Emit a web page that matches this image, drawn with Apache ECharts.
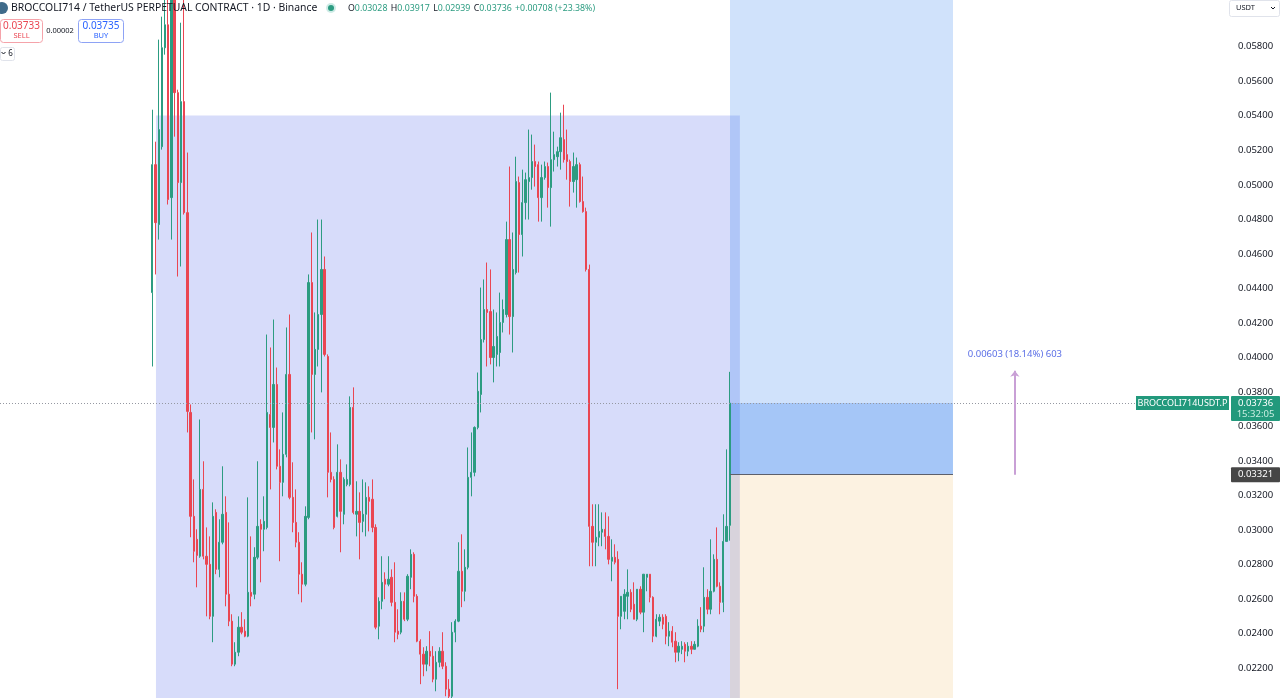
<!DOCTYPE html>
<html><head><meta charset="utf-8">
<style>html,body{margin:0;padding:0;background:#fff;}#c{width:1280px;height:698px;}</style>
<script src="https://cdn.jsdelivr.net/npm/echarts@6/dist/echarts.min.js"></script>
</head><body><div id="c"></div>
<script>
// ---- data (daily candles, oldest first) ----
const opens=[0.04376,0.05117,0.04770,0.05221,0.05794,0.05927,0.04926,0.06101,0.05534,0.05013,
0.05482,0.04839,0.03682,0.03080,0.02947,0.02849,0.03236,0.02849,0.02802,0.02501,
0.03103,0.02773,0.02930,0.03103,0.02629,0.02473,0.02224,0.02293,0.02438,0.02415,
0.02386,0.02640,0.02629,0.02843,0.03034,0.03005,0.03016,0.03670,0.03595,0.03844,
0.03370,0.03277,0.03439,0.03902,0.03190,0.03045,0.02930,0.02745,0.02687,0.03074,
0.04434,0.03902,0.04047,0.04249,0.04510,0.04006,0.03335,0.03294,0.03080,0.03335,
0.03092,0.03265,0.03265,0.03711,0.03092,0.03109,0.03051,0.03092,0.03190,0.03179,
0.03016,0.02444,0.02588,0.02716,0.02687,0.02727,0.02582,0.02415,0.02409,0.02588,
0.02484,0.02727,0.02860,0.02617,0.02357,0.02282,0.02224,0.02299,0.02270,0.02137,
0.02235,0.02299,0.02212,0.02079,0.02038,0.02409,0.02473,0.02762,0.02646,0.02785,
0.03306,0.03335,0.03595,0.03786,0.04104,0.04278,0.04266,0.04000,0.04018,0.04029,
0.04203,0.04249,0.04683,0.04237,0.04492,0.05013,0.04712,0.04897,0.05019,0.05042,
0.05135,0.05117,0.04926,0.05042,0.05106,0.04984,0.05146,0.05163,0.05192,0.05262,
0.05175,0.05135,0.05019,0.05030,0.05117,0.04903,0.04845,0.04510,0.03022,0.02930,
0.02959,0.02988,0.03005,0.02964,0.02820,0.02843,0.02831,0.02501,0.02530,0.02617,
0.02640,0.02571,0.02484,0.02658,0.02525,0.02727,0.02745,0.02611,0.02386,0.02473,
0.02496,0.02501,0.02386,0.02415,0.02357,0.02293,0.02310,0.02339,0.02299,0.02328,
0.02310,0.02328,0.02444,0.02444,0.02611,0.02542,0.02646,0.02831,0.02675,0.02582,
0.02935,0.03028];
const closes=[0.05117,0.04781,0.05320,0.05794,0.05927,0.04915,0.06101,0.05534,0.05013,0.05482,
0.04839,0.03688,0.03080,0.02878,0.02854,0.03236,0.02849,0.02802,0.02501,0.03080,
0.02773,0.02930,0.03092,0.02629,0.02473,0.02224,0.02293,0.02438,0.02409,0.02386,
0.02640,0.02617,0.02843,0.03022,0.03005,0.03051,0.03682,0.03595,0.03844,0.03370,
0.03277,0.03439,0.03902,0.03190,0.03045,0.02930,0.02745,0.02687,0.03080,0.04434,
0.03902,0.04047,0.04249,0.04510,0.04018,0.03335,0.03294,0.03016,0.03335,0.03109,
0.03294,0.03294,0.03711,0.03103,0.03109,0.03045,0.03092,0.03190,0.03167,0.03016,
0.02438,0.02588,0.02698,0.02687,0.02716,0.02582,0.02409,0.02397,0.02588,0.02484,
0.02733,0.02860,0.02617,0.02357,0.02282,0.02224,0.02299,0.02270,0.02137,0.02235,
0.02299,0.02212,0.02079,0.02038,0.02409,0.02473,0.02762,0.02646,0.02785,0.03306,
0.03335,0.03595,0.03804,0.04104,0.04278,0.04261,0.04000,0.04064,0.04122,0.04203,
0.04278,0.04683,0.04237,0.04510,0.05019,0.04712,0.04897,0.05030,0.05042,0.05135,
0.05106,0.04926,0.05042,0.05106,0.04984,0.05146,0.05175,0.05192,0.05273,0.05146,
0.05135,0.05019,0.05106,0.05117,0.04903,0.04845,0.04510,0.03022,0.02930,0.02959,
0.02993,0.03005,0.02964,0.02831,0.02843,0.02814,0.02501,0.02617,0.02629,0.02640,
0.02542,0.02484,0.02658,0.02525,0.02745,0.02745,0.02611,0.02386,0.02484,0.02496,
0.02455,0.02386,0.02415,0.02351,0.02293,0.02328,0.02328,0.02299,0.02328,0.02310,
0.02339,0.02444,0.02426,0.02611,0.02542,0.02646,0.02831,0.02675,0.02582,0.02935,
0.03022,0.03736];
const highs=[0.05435,0.05250,0.05841,0.05974,0.06120,0.06100,0.06130,0.06130,0.05551,0.05939,
0.06090,0.05187,0.03728,0.03294,0.03005,0.03641,0.03399,0.03016,0.02964,0.03161,
0.03121,0.03063,0.03370,0.03196,0.03045,0.02513,0.02351,0.02501,0.02525,0.02484,
0.03190,0.02964,0.02901,0.03399,0.03063,0.03196,0.04133,0.04058,0.04220,0.03942,
0.03468,0.03682,0.04174,0.04249,0.03393,0.03236,0.02988,0.02814,0.03138,0.04481,
0.04724,0.04261,0.04799,0.04799,0.04585,0.04018,0.03566,0.03312,0.03497,0.03410,
0.03306,0.03381,0.03775,0.03827,0.03283,0.03219,0.03294,0.03277,0.03254,0.03294,
0.03034,0.02611,0.02849,0.02756,0.02849,0.02773,0.02814,0.02542,0.02640,0.02640,
0.02745,0.02889,0.02872,0.02629,0.02368,0.02322,0.02328,0.02415,0.02328,0.02299,
0.02322,0.02409,0.02235,0.02137,0.02467,0.02484,0.02930,0.02976,0.02889,0.03479,
0.03566,0.03601,0.03913,0.04405,0.04452,0.04550,0.04510,0.04278,0.04261,0.04376,
0.04336,0.04787,0.05106,0.04724,0.05163,0.05048,0.05088,0.05071,0.05320,0.05291,
0.05233,0.05135,0.05117,0.05135,0.05129,0.05534,0.05308,0.05221,0.05418,0.05464,
0.05320,0.05146,0.05187,0.05158,0.05129,0.05048,0.04868,0.04538,0.03150,0.03150,
0.03150,0.03103,0.03103,0.03080,0.02947,0.02918,0.02878,0.02617,0.02658,0.02773,
0.02658,0.02698,0.02658,0.02675,0.02745,0.02745,0.02745,0.02617,0.02513,0.02513,
0.02513,0.02513,0.02467,0.02444,0.02409,0.02351,0.02357,0.02351,0.02351,0.02357,
0.02357,0.02484,0.02554,0.02785,0.02658,0.02947,0.02860,0.03016,0.02698,0.03092,
0.03468,0.03917];
const lows=[0.03948,0.04481,0.04683,0.05204,0.05754,0.04886,0.04683,0.05279,0.04469,0.04527,
0.04828,0.03566,0.02959,0.02814,0.02669,0.02840,0.02831,0.02501,0.02484,0.02351,
0.02745,0.02727,0.02918,0.02559,0.02444,0.02212,0.02212,0.02270,0.02397,0.02380,
0.02380,0.02559,0.02600,0.02831,0.02698,0.02878,0.03005,0.03236,0.03508,0.03352,
0.02820,0.03196,0.03422,0.03179,0.02988,0.02901,0.02629,0.02582,0.02675,0.03063,
0.03566,0.03526,0.03948,0.03798,0.04006,0.03190,0.03277,0.03005,0.03074,0.02872,
0.03034,0.03254,0.03254,0.03092,0.02964,0.02831,0.02988,0.02964,0.02993,0.02988,
0.02426,0.02368,0.02542,0.02600,0.02675,0.02559,0.02351,0.02368,0.02397,0.02473,
0.02473,0.02658,0.02582,0.02351,0.02108,0.02154,0.02183,0.02212,0.02119,0.02067,
0.02206,0.02195,0.02038,0.02020,0.02020,0.02351,0.02467,0.02554,0.02588,0.02773,
0.03196,0.03312,0.03584,0.03682,0.04087,0.03948,0.03960,0.03856,0.03948,0.03948,
0.04145,0.04232,0.04133,0.04029,0.04481,0.04492,0.04585,0.04799,0.04799,0.04972,
0.04990,0.04787,0.04787,0.05030,0.04868,0.04758,0.05077,0.05106,0.05088,0.05129,
0.05030,0.04874,0.04955,0.04868,0.04897,0.04839,0.04498,0.02791,0.02791,0.02791,
0.02907,0.02907,0.02889,0.02802,0.02704,0.02802,0.02079,0.02426,0.02484,0.02484,
0.02525,0.02484,0.02473,0.02513,0.02409,0.02646,0.02582,0.02351,0.02380,0.02444,
0.02426,0.02339,0.02328,0.02322,0.02235,0.02241,0.02282,0.02235,0.02270,0.02282,
0.02310,0.02322,0.02409,0.02409,0.02513,0.02513,0.02640,0.02669,0.02513,0.02525,
0.02935,0.02939];
const yTickLabels=['0.02200','0.02400','0.02600','0.02800','0.03000','0.03200','0.03400','0.03600','0.03800',
'0.04000','0.04200','0.04400','0.04600','0.04800','0.05000','0.05200','0.05400','0.05600','0.05800'];
const yTickValues=yTickLabels.map(Number);
const lastPrice=0.03736, entryPrice=0.03321, targetPrice=0.03924, boxTopPrice=0.05401;
const rangeText='0.00603 (18.14%) 603';
const titleText='BROCCOLI714 / TetherUS PERPETUAL CONTRACT \u00b7 1D \u00b7 Binance';
const ohlc=[['O','0.03028'],['H','0.03917'],['L','0.02939'],['C','0.03736']];
const changeText='+0.00708 (+23.38%)';
const sellPrice='0.03733', buyPrice='0.03735', spreadText='0.00002';
const symbolTag='BROCCOLI714USDT.P', countdown='15:32:05';

// drawing anchors in bar-index units
const boxStart=1.16, boxEnd=184.2, posStart=181.1, posEnd=251.0, arrowX=270.4;
const X_MIN=-47.74, X_MAX=337.84, Y_MIN=0.02028, Y_MAX=0.060705;

const FONT='"Noto Sans", "Open Sans", sans-serif';
const UP='#2c9c81', DOWN='#ea4652';
const chart=echarts.init(document.getElementById('c'),null,{renderer:'canvas'});
const data=opens.map((o,i)=>[i,o,closes[i],lows[i],highs[i]]);

chart.setOption({
  animation:false,
  grid:{left:0,right:50,top:0,bottom:0},
  xAxis:{type:'value',min:X_MIN,max:X_MAX,show:false},
  yAxis:{type:'value',position:'right',min:Y_MIN,max:Y_MAX,splitNumber:20,
    axisLine:{show:false},axisTick:{show:false},splitLine:{show:false},
    axisLabel:{margin:8,color:'#131722',fontSize:9.5,fontFamily:FONT,customValues:yTickValues,
      formatter:v=>{const s=v.toFixed(5);return yTickLabels.includes(s)?s:'';}}},
  series:[
    {type:'line',data:[],z:1,silent:true,
     markArea:{silent:true,data:[
       [{coord:[boxStart,boxTopPrice],itemStyle:{color:'rgba(100,120,235,0.26)'}},{coord:[boxEnd,Y_MIN]}],
       [{coord:[posStart,Y_MAX],itemStyle:{color:'rgba(20,110,235,0.2)'}},{coord:[posEnd,entryPrice]}],
       [{coord:[posStart,lastPrice],itemStyle:{color:'rgba(20,110,235,0.23)'}},{coord:[posEnd,entryPrice]}],
       [{coord:[posStart,entryPrice],itemStyle:{color:'rgba(230,150,10,0.12)'}},{coord:[posEnd,Y_MIN]}]
     ]}},
    {type:'candlestick',z:3,data:data,encode:{x:0,y:[1,2,3,4]},barWidth:1.8,
     itemStyle:{color:UP,color0:DOWN,borderColor:UP,borderColor0:DOWN,borderWidth:1}},
    {type:'line',data:[],z:5,silent:true,
     markLine:{silent:true,symbol:['none','none'],label:{show:false},animation:false,
       data:[
         [{coord:[X_MIN,lastPrice],lineStyle:{color:'#9598a1',type:[1,2],width:1}},{coord:[X_MAX,lastPrice]}],
         [{coord:[posStart,entryPrice],lineStyle:{color:'#5d606b',type:'solid',width:1}},{coord:[posEnd,entryPrice]}],
         [{coord:[arrowX,entryPrice],symbol:'none',lineStyle:{color:'#c9a0d6',type:'solid',width:2}},
          {coord:[arrowX,targetPrice],symbol:'arrow',symbolSize:[7,6]}]
       ]}}
  ]
});

const yPx=v=>chart.convertToPixel({yAxisIndex:0},v);
const xPx=v=>chart.convertToPixel({xAxisIndex:0},v);
const yLast=yPx(lastPrice), yEntry=yPx(entryPrice), yTarget=yPx(targetPrice), xArrow=xPx(arrowX);
const T=(x,y,text,size,fill,align,extra)=>Object.assign({type:'text',x:x,y:y,z:100,
  style:{text:text,fill:fill,font:size+'px '+FONT,align:align||'left',verticalAlign:'middle'}},extra||{});
const R=(x,y,w,h,fill,stroke,r)=>({type:'rect',z:99,shape:{x:x,y:y,width:w,height:h,r:r||0},
  style:{fill:fill,stroke:stroke||null,lineWidth:1}});

const ohlcRich=ohlc.map(p=>'{l|'+p[0]+'}{v|'+p[1]+'}').join(' ')+' {v|'+changeText+'}';
const g=[
  {type:'circle',z:100,shape:{cx:2,cy:8,r:6},style:{fill:'#3f6b8a'}},
  T(11,8,titleText,10.4,'#131722'),
  {type:'circle',z:100,shape:{cx:331,cy:8,r:5},style:{fill:'rgba(8,153,129,0.2)'}},
  {type:'circle',z:100,shape:{cx:331,cy:8,r:3},style:{fill:UP}},
  {type:'text',x:348,y:8,z:100,style:{text:ohlcRich,verticalAlign:'middle',
    rich:{l:{fill:'#131722',font:'8.8px '+FONT},v:{fill:UP,font:'8.8px '+FONT}}}},
  R(0.5,19.5,42,23,'#fff','#f5a3aa',3),
  T(21.5,26,sellPrice,10,DOWN,'center'),
  T(21.5,36,'SELL',7.5,DOWN,'center'),
  T(60,31,spreadText,7.5,'#131722','center'),
  R(78.5,19.5,45,23,'#fff','#8ea3f5',3),
  T(101,26,buyPrice,10,'#2962ff','center'),
  T(101,36,'BUY',7.5,'#2962ff','center'),
  R(0.5,47.5,14,13,'#fff','#e0e3eb',2),
  {type:'polyline',z:100,shape:{points:[[1.5,52],[3.5,54],[5.5,52]]},style:{stroke:'#131722',lineWidth:1,fill:null}},
  T(10.5,54,'6',8,'#131722','center'),
  R(1229.5,0.5,50,16,'#fff','#e0e3eb',2),
  T(1236,8,'USDT',7.5,'#131722'),
  {type:'polyline',z:100,shape:{points:[[1271,7],[1273,9],[1275,7]]},style:{stroke:'#131722',lineWidth:1,fill:null}},
  // price scale tags
  R(1136,yLast-7,93,14,'#22997c'),
  T(1182.5,yLast,symbolTag,9,'#fff','center'),
  R(1231,yLast-7,49,25,'#22997c',null,1),
  T(1255.5,yLast,'0.03736',9.5,'#fff','center'),
  T(1255.5,yLast+11,countdown,9.5,'#c9eee2','center'),
  R(1231,yEntry-7.5,49,15,'#464646',null,1),
  T(1255.5,yEntry,'0.03321',9.5,'#fff','center'),
  // range measurement label
  T(xArrow,yTarget-16,rangeText,9.5,'#5b6fe6','center')
];
chart.setOption({graphic:{elements:g}});
</script></body></html>
